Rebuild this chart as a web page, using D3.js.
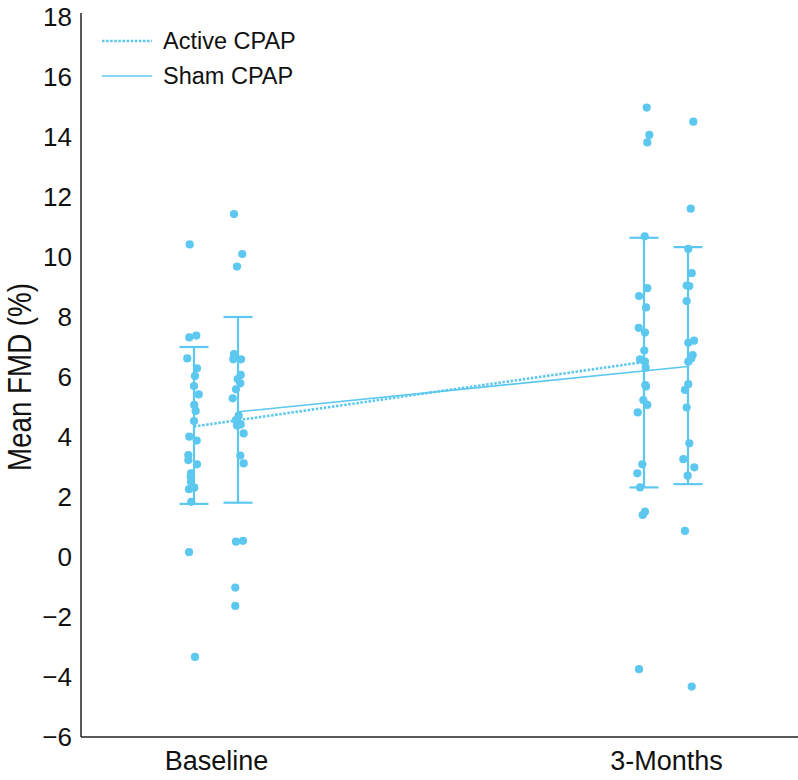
<!DOCTYPE html>
<html><head><meta charset="utf-8">
<script src="https://cdn.jsdelivr.net/npm/d3@7"></script>
<style>
body{margin:0;background:#fff;}
text{font-family:"Liberation Sans",Arial,Helvetica,sans-serif;fill:#111;}
</style></head>
<body><svg id="c" width="798" height="780"></svg>
<script>
const timepoints = ["Baseline","3-Months"];
const groups = ["Active CPAP","Sham CPAP"];
const yTicks = [-6,-4,-2,0,2,4,6,8,10,12,14,16,18];

// individual values (%)
const activeBaseline = [10.42,7.32,7.38,6.62,6.29,6.03,5.70,5.42,5.07,4.87,4.53,4.01,3.88,3.40,3.23,3.09,2.79,2.68,2.51,2.26,2.31,1.84,0.16,-3.33];
const activeBaselineJitter = [-0.61,-0.67,0.33,-0.96,0.43,0.14,0,0.67,0.04,0.24,0,-0.67,0.39,-0.81,-0.81,0.43,-0.43,-0.47,-0.43,-0.71,0.04,-0.39,-0.71,0.14];
const shamBaseline = [11.43,10.1,9.68,6.76,6.59,6.59,6.07,5.93,5.79,5.59,5.29,4.71,4.56,4.42,4.38,4.12,3.38,3.12,0.51,0.54,-1.02,-1.63];
const shamBaselineJitter = [-0.57,0.61,-0.14,-0.57,-0.67,0.43,0.39,-0.04,0.33,-0.29,-0.76,0.1,-0.29,0.39,-0.14,0.81,0.33,0.81,-0.29,0.71,-0.39,-0.39];
const active3m = [14.98,14.07,13.82,10.69,8.96,8.70,8.32,7.64,7.48,6.88,6.59,6.51,6.31,5.73,5.68,5.23,5.07,4.82,3.09,2.79,2.32,1.51,1.40,-3.74];
const active3mJitter = [0.39,0.76,0.47,0.1,0.47,-0.71,0.29,-0.76,0.14,0.04,-0.57,0.14,0.24,0.19,0.29,-0.1,0.47,-0.9,-0.24,-0.96,-0.57,0.14,-0.19,-0.71];
const sham3m = [14.51,11.61,10.27,9.46,9.05,9.03,8.53,7.14,7.21,6.73,6.62,6.51,5.76,5.57,4.98,3.79,3.26,2.99,2.71,0.87,-4.32];
const sham3mJitter = [0.76,0.39,0.04,0.53,-0.19,0.19,-0.19,0.04,0.86,0.67,0.47,0.04,0.04,-0.43,-0.19,0.19,-0.67,0.9,-0.04,-0.43,0.53];

// summary: mean, lower and upper error bar
const activeMean = [4.35, 6.50];
const activeLow  = [1.77, 2.32];
const activeHigh = [7.00, 10.64];
const shamMean = [4.84, 6.35];
const shamLow  = [1.81, 2.43];
const shamHigh = [8.00, 10.33];

const color = "#5cc8f0";
const svg = d3.select("#c");
const y = d3.scaleLinear().domain([-6,18]).range([737,17]);
const x = d3.scalePoint().domain(timepoints).range([216,666]);
const off = d3.scalePoint().domain(groups).range([-22,22]);
const jit = d3.scaleLinear().domain([-1,1]).range([-7,7]);

// axes
const yAxis = svg.append("g").attr("transform","translate(81,0)")
  .call(d3.axisLeft(y).tickValues(yTicks).tickSize(0).tickPadding(9).tickSizeOuter(0));
yAxis.select(".domain").attr("d","M0,737V13").attr("stroke","#222").attr("stroke-width",1.5);
yAxis.selectAll("text").style("font-size","26px").attr("fill","#111");

const xAxis = svg.append("g").attr("transform","translate(0,737)")
  .call(d3.axisBottom(x).tickSize(0).tickPadding(14));
xAxis.select(".domain").attr("d","M81,0H798").attr("stroke","#222").attr("stroke-width",1.5);
xAxis.selectAll("text").style("font-size","27px").attr("fill","#111");

svg.append("text").attr("transform","translate(31,"+y(6.0)+") rotate(-90)")
  .attr("text-anchor","middle").style("font-size","33px")
  .attr("textLength",188).attr("lengthAdjust","spacingAndGlyphs")
  .text("Mean FMD (%)");

const sets = [
  {g:groups[0], vals:[activeBaseline,active3m], jit:[activeBaselineJitter,active3mJitter], mean:activeMean, lo:activeLow, hi:activeHigh, dash:"2.5,1.6", w:2.6},
  {g:groups[1], vals:[shamBaseline,sham3m], jit:[shamBaselineJitter,sham3mJitter], mean:shamMean, lo:shamLow, hi:shamHigh, dash:null, w:1.6}
];

sets.forEach(s=>{
  const cx = t => x(t)+off(s.g);
  // error bars
  timepoints.forEach((t,i)=>{
    const g = svg.append("g").attr("stroke",color).attr("stroke-width",2.2);
    g.append("line").attr("x1",cx(t)).attr("x2",cx(t)).attr("y1",y(s.lo[i])).attr("y2",y(s.hi[i]));
    g.append("line").attr("x1",cx(t)-14.5).attr("x2",cx(t)+14.5).attr("y1",y(s.lo[i])).attr("y2",y(s.lo[i]));
    g.append("line").attr("x1",cx(t)-14.5).attr("x2",cx(t)+14.5).attr("y1",y(s.hi[i])).attr("y2",y(s.hi[i]));
  });
  // points
  timepoints.forEach((t,i)=>{
    svg.append("g").selectAll("circle").data(s.vals[i]).join("circle")
      .attr("cx",(d,k)=>cx(t)+jit(s.jit[i][k])).attr("cy",d=>y(d)).attr("r",4.1).attr("fill",color);
  });
});
// mean lines on top
sets.forEach(s=>{
  const line = d3.line().x((d,i)=>x(timepoints[i])+off(s.g)).y(d=>y(d));
  const p = svg.append("path").datum(s.mean).attr("d",line).attr("fill","none")
    .attr("stroke",color).attr("stroke-width",s.w);
  if(s.dash) p.attr("stroke-dasharray",s.dash);
});

// legend
const leg = svg.append("g");
sets.forEach((s,i)=>{
  const ly = 41 + i*35;
  const l = leg.append("line").attr("x1",102).attr("x2",152).attr("y1",ly).attr("y2",ly)
    .attr("stroke",color).attr("stroke-width",s.dash?2.6:1.6);
  if(s.dash) l.attr("stroke-dasharray",s.dash);
  leg.append("text").attr("x",163).attr("y",ly+8).style("font-size","23.5px").text(s.g);
});
</script></body></html>
